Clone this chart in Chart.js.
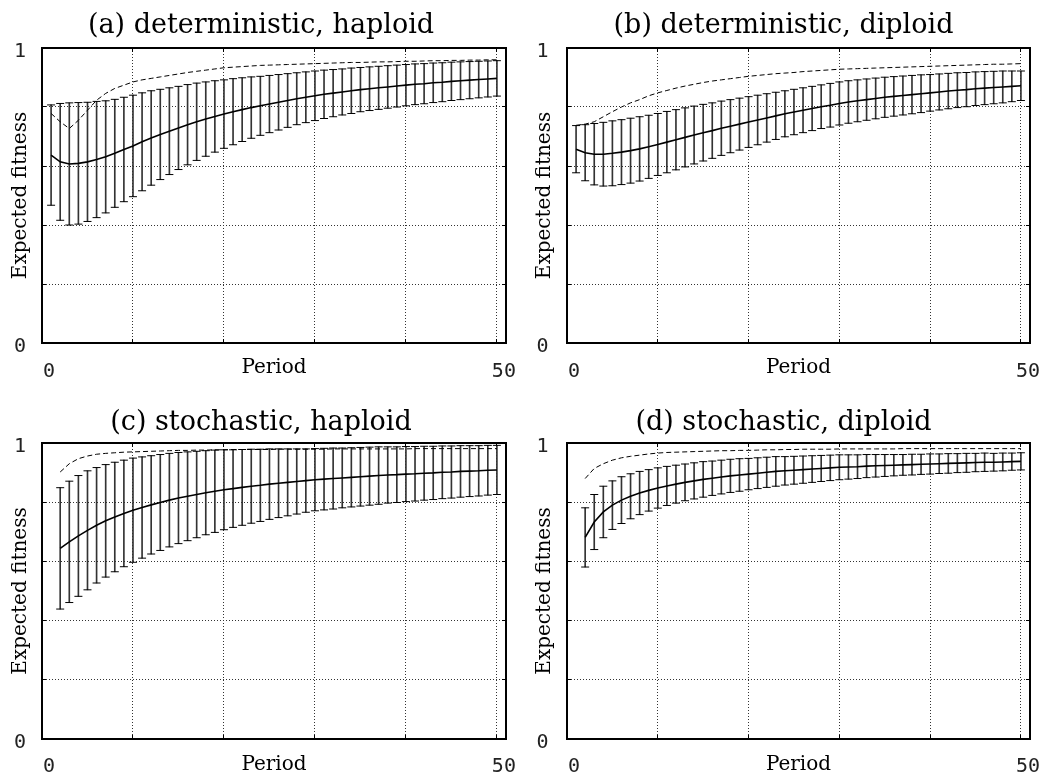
<!DOCTYPE html>
<html><head><meta charset="utf-8">
<script src="https://cdn.jsdelivr.net/npm/chart.js@4.4.1/dist/chart.umd.min.js"></script>
<style>
html,body{margin:0;padding:0;background:#fff;}
#wrap{position:relative;width:1045px;height:775px;overflow:hidden;background:#fff;}
canvas{position:absolute;}
</style></head><body>
<div id="wrap">
<canvas id="cA" width="522" height="390" style="left:0px;top:0px"></canvas>
<canvas id="cB" width="523" height="390" style="left:522px;top:0px"></canvas>
<canvas id="cC" width="522" height="385" style="left:0px;top:390px"></canvas>
<canvas id="cD" width="523" height="385" style="left:522px;top:390px"></canvas>
</div>
<script>
// ---- data ----
const periods = [1,2,3,4,5,6,7,8,9,10,11,12,13,14,15,16,17,18,19,20,21,22,23,24,25,26,27,28,29,30,31,32,33,34,35,36,37,38,39,40,41,42,43,44,45,46,47,48,49,50];
const xTickShown = [0, 50];
const yTickShown = [0, 1];

const meanA = [0.637,0.614,0.607,0.609,0.614,0.622,0.631,0.643,0.656,0.668,0.682,0.695,0.707,0.718,0.729,0.740,0.750,0.759,0.768,0.776,0.784,0.791,0.798,0.804,0.810,0.816,0.822,0.828,0.833,0.838,0.843,0.847,0.851,0.855,0.859,0.862,0.865,0.868,0.871,0.874,0.877,0.879,0.882,0.884,0.887,0.889,0.891,0.893,0.895,0.897];
const sdA = [0.170,0.198,0.207,0.206,0.202,0.197,0.190,0.183,0.177,0.172,0.166,0.160,0.153,0.147,0.141,0.136,0.131,0.126,0.121,0.116,0.112,0.108,0.104,0.100,0.097,0.094,0.091,0.088,0.086,0.084,0.082,0.080,0.078,0.077,0.075,0.074,0.073,0.072,0.071,0.070,0.069,0.068,0.067,0.066,0.065,0.064,0.063,0.062,0.061,0.060];
const bestA = [0.778,0.750,0.727,0.755,0.789,0.823,0.846,0.863,0.874,0.885,0.892,0.897,0.902,0.907,0.912,0.917,0.921,0.925,0.929,0.933,0.935,0.937,0.939,0.941,0.942,0.943,0.944,0.945,0.946,0.947,0.948,0.949,0.950,0.951,0.951,0.952,0.953,0.953,0.954,0.955,0.955,0.956,0.957,0.957,0.958,0.958,0.959,0.959,0.960,0.960];

const meanB = [0.657,0.645,0.640,0.640,0.643,0.647,0.652,0.658,0.665,0.673,0.681,0.689,0.697,0.705,0.713,0.720,0.728,0.735,0.742,0.749,0.756,0.763,0.770,0.777,0.783,0.789,0.795,0.801,0.806,0.812,0.817,0.821,0.825,0.829,0.833,0.836,0.839,0.842,0.845,0.848,0.851,0.854,0.857,0.859,0.862,0.864,0.866,0.868,0.870,0.872];
const sdB = [0.080,0.095,0.104,0.108,0.110,0.110,0.110,0.109,0.107,0.105,0.104,0.102,0.100,0.098,0.096,0.094,0.092,0.090,0.088,0.086,0.084,0.082,0.080,0.078,0.077,0.076,0.075,0.074,0.074,0.073,0.072,0.071,0.070,0.069,0.068,0.067,0.066,0.065,0.064,0.062,0.061,0.060,0.059,0.058,0.057,0.056,0.055,0.054,0.052,0.050];
const bestB = [0.738,0.742,0.750,0.767,0.784,0.800,0.814,0.825,0.838,0.848,0.856,0.864,0.871,0.877,0.883,0.888,0.892,0.896,0.900,0.904,0.907,0.910,0.913,0.915,0.917,0.920,0.922,0.924,0.926,0.928,0.929,0.930,0.931,0.932,0.933,0.934,0.935,0.936,0.937,0.938,0.939,0.940,0.941,0.942,0.943,0.944,0.945,0.945,0.946,0.947];

const meanC = [null,0.644,0.666,0.686,0.705,0.722,0.737,0.750,0.762,0.773,0.782,0.791,0.799,0.807,0.814,0.820,0.826,0.832,0.837,0.842,0.846,0.850,0.854,0.857,0.861,0.864,0.867,0.870,0.873,0.876,0.878,0.880,0.882,0.884,0.886,0.888,0.890,0.892,0.893,0.895,0.896,0.898,0.899,0.901,0.902,0.904,0.905,0.906,0.908,0.909];
const sdC = [null,0.205,0.205,0.204,0.201,0.195,0.190,0.185,0.180,0.176,0.171,0.166,0.162,0.158,0.154,0.150,0.146,0.142,0.139,0.135,0.131,0.128,0.125,0.122,0.119,0.116,0.113,0.110,0.107,0.105,0.104,0.103,0.101,0.100,0.099,0.098,0.097,0.095,0.094,0.093,0.092,0.091,0.090,0.089,0.088,0.087,0.086,0.085,0.084,0.083];
const bestC = [null,0.902,0.930,0.947,0.956,0.962,0.965,0.967,0.969,0.970,0.971,0.972,0.973,0.974,0.975,0.975,0.976,0.976,0.977,0.977,0.978,0.978,0.978,0.978,0.978,0.979,0.979,0.979,0.979,0.979,0.979,0.980,0.980,0.980,0.980,0.980,0.980,0.980,0.980,0.980,0.981,0.981,0.981,0.981,0.981,0.981,0.981,0.981,0.981,0.981];

const meanD = [null,0.681,0.733,0.767,0.790,0.807,0.820,0.831,0.840,0.848,0.855,0.861,0.867,0.872,0.877,0.881,0.885,0.889,0.892,0.895,0.898,0.901,0.904,0.906,0.908,0.910,0.912,0.914,0.916,0.918,0.919,0.920,0.922,0.923,0.924,0.925,0.926,0.927,0.928,0.929,0.930,0.931,0.932,0.933,0.934,0.935,0.935,0.936,0.937,0.938];
const sdD = [null,0.100,0.093,0.087,0.082,0.079,0.076,0.073,0.070,0.068,0.066,0.064,0.062,0.061,0.060,0.058,0.057,0.056,0.055,0.053,0.052,0.051,0.050,0.048,0.047,0.046,0.045,0.044,0.043,0.042,0.041,0.040,0.039,0.038,0.037,0.036,0.035,0.035,0.034,0.034,0.033,0.033,0.032,0.032,0.031,0.031,0.030,0.030,0.029,0.029];
const bestD = [null,0.880,0.914,0.930,0.942,0.950,0.955,0.959,0.963,0.966,0.968,0.969,0.970,0.971,0.972,0.973,0.974,0.974,0.975,0.975,0.976,0.977,0.977,0.978,0.978,0.979,0.979,0.979,0.979,0.980,0.980,0.980,0.980,0.980,0.980,0.980,0.981,0.981,0.981,0.981,0.981,0.981,0.981,0.981,0.981,0.981,0.981,0.981,0.981,0.981];

const titles = ['(a) deterministic, haploid', '(b) deterministic, diploid', '(c) stochastic, haploid', '(d) stochastic, diploid'];
const xTitle = 'Period';
const yTitle = 'Expected fitness';

// ---- layout (per panel) ----
const layoutLeft  = {yW: 42, yTickPad: 20, yTitlePad: 11, rightW: 16};
const layoutRight = {yW: 45, yTickPad: 22.5, yTitlePad: 13, rightW: 15};
const layoutTop    = {tPad: 12.2, bPad: 8.8, xH: 47, xTickPad: 8.3, xTitlePad: 12};
const layoutBottom = {tPad: 19.5, bPad: 6.5, xH: 36, xTickPad: 7.3, xTitlePad: 0};

Chart.defaults.font.family = 'DejaVu Serif';

function makePanel(id, title, mean, sd, best, H, V) {
  const line = [], lo = [], hi = [], bars = [], top = [];
  periods.forEach((t, i) => {
    if (mean[i] !== null) {
      line.push({x: t, y: mean[i]});
      lo.push({x: t, y: mean[i] - sd[i]});
      hi.push({x: t, y: mean[i] + sd[i]});
      bars.push({x: t, y: [mean[i] - sd[i], mean[i] + sd[i]]});
    }
    if (best[i] !== null) top.push({x: t, y: best[i]});
  });
  const tickFontX = {family: 'DejaVu Sans Mono', size: 20, lineHeight: 2.4};
  const tickFontY = {family: 'DejaVu Sans Mono', size: 20};
  const gridOpts = {offset: false, color: '#333', lineWidth: 1, drawTicks: true, tickLength: -4, tickColor: '#000', tickWidth: 1};
  const mirrorGrid = {offset: false, drawOnChartArea: false, drawTicks: true, tickLength: -4, tickColor: '#000', tickWidth: 1};
  return new Chart(document.getElementById(id), {
    type: 'line',
    data: {datasets: [
      {type: 'bar', data: bars, backgroundColor: '#333', borderWidth: 0, barThickness: 1, order: 5},
      {data: lo, showLine: false, pointStyle: 'line', pointRadius: 4, pointBorderWidth: 1, pointBorderColor: '#000', order: 4},
      {data: hi, showLine: false, pointStyle: 'line', pointRadius: 4, pointBorderWidth: 1, pointBorderColor: '#000', order: 3},
      {data: top, borderColor: '#000', borderWidth: 1, borderDash: [5, 3], pointRadius: 0, tension: 0, order: 2},
      {data: line, borderColor: '#000', borderWidth: 1.6, pointRadius: 0, tension: 0, order: 1}
    ]},
    options: {
      responsive: false, animation: false, events: [],
      layout: {padding: 0},
      plugins: {
        legend: {display: false}, tooltip: {enabled: false},
        title: {display: true, text: title, color: '#000',
          font: {family: 'DejaVu Serif', size: 27, weight: 'normal', lineHeight: 1},
          padding: {top: V.tPad, bottom: V.bPad}}
      },
      scales: {
        x: {type: 'linear', axis: 'x', position: 'bottom', min: 0, max: 51, offset: false,
          afterFit: s => { s.height = V.xH; },
          ticks: {stepSize: 10, includeBounds: false, autoSkip: false, maxRotation: 0, minRotation: 0,
            labelOffset: 7, padding: V.xTickPad, color: '#222', font: tickFontX,
            callback: v => xTickShown.includes(v) ? String(v) : ''},
          grid: gridOpts,
          border: {display: true, color: '#000', width: 2, dash: [1, 2]},
          title: {display: true, text: xTitle, color: '#000', font: {family: 'DejaVu Serif', size: 20, lineHeight: 1},
            padding: {top: 0, bottom: V.xTitlePad}}},
        y: {type: 'linear', axis: 'y', position: 'left', min: 0, max: 1, offset: false,
          afterFit: s => { s.width = H.yW; },
          ticks: {stepSize: 0.2, labelOffset: 4, padding: H.yTickPad, color: '#222', font: tickFontY,
            callback: v => yTickShown.includes(v) ? String(v) : ''},
          grid: gridOpts,
          border: {display: true, color: '#000', width: 2, dash: [1, 2]},
          title: {display: true, text: yTitle, color: '#000', font: {family: 'DejaVu Serif', size: 20, lineHeight: 1},
            padding: {top: H.yTitlePad, bottom: 0}}},
        x2: {type: 'linear', axis: 'x', position: 'top', min: 0, max: 51, offset: false,
          afterFit: s => { s.height = 0; },
          ticks: {display: false, stepSize: 10, includeBounds: false},
          grid: mirrorGrid, border: {display: true, color: '#000', width: 2}},
        y2: {type: 'linear', axis: 'y', position: 'right', min: 0, max: 1, offset: false,
          afterFit: s => { s.width = H.rightW; },
          ticks: {display: false, stepSize: 0.2},
          grid: mirrorGrid, border: {display: true, color: '#000', width: 2}}
      }
    }
  });
}

makePanel('cA', titles[0], meanA, sdA, bestA, layoutLeft, layoutTop);
makePanel('cB', titles[1], meanB, sdB, bestB, layoutRight, layoutTop);
makePanel('cC', titles[2], meanC, sdC, bestC, layoutLeft, layoutBottom);
makePanel('cD', titles[3], meanD, sdD, bestD, layoutRight, layoutBottom);
</script>
</body></html>
